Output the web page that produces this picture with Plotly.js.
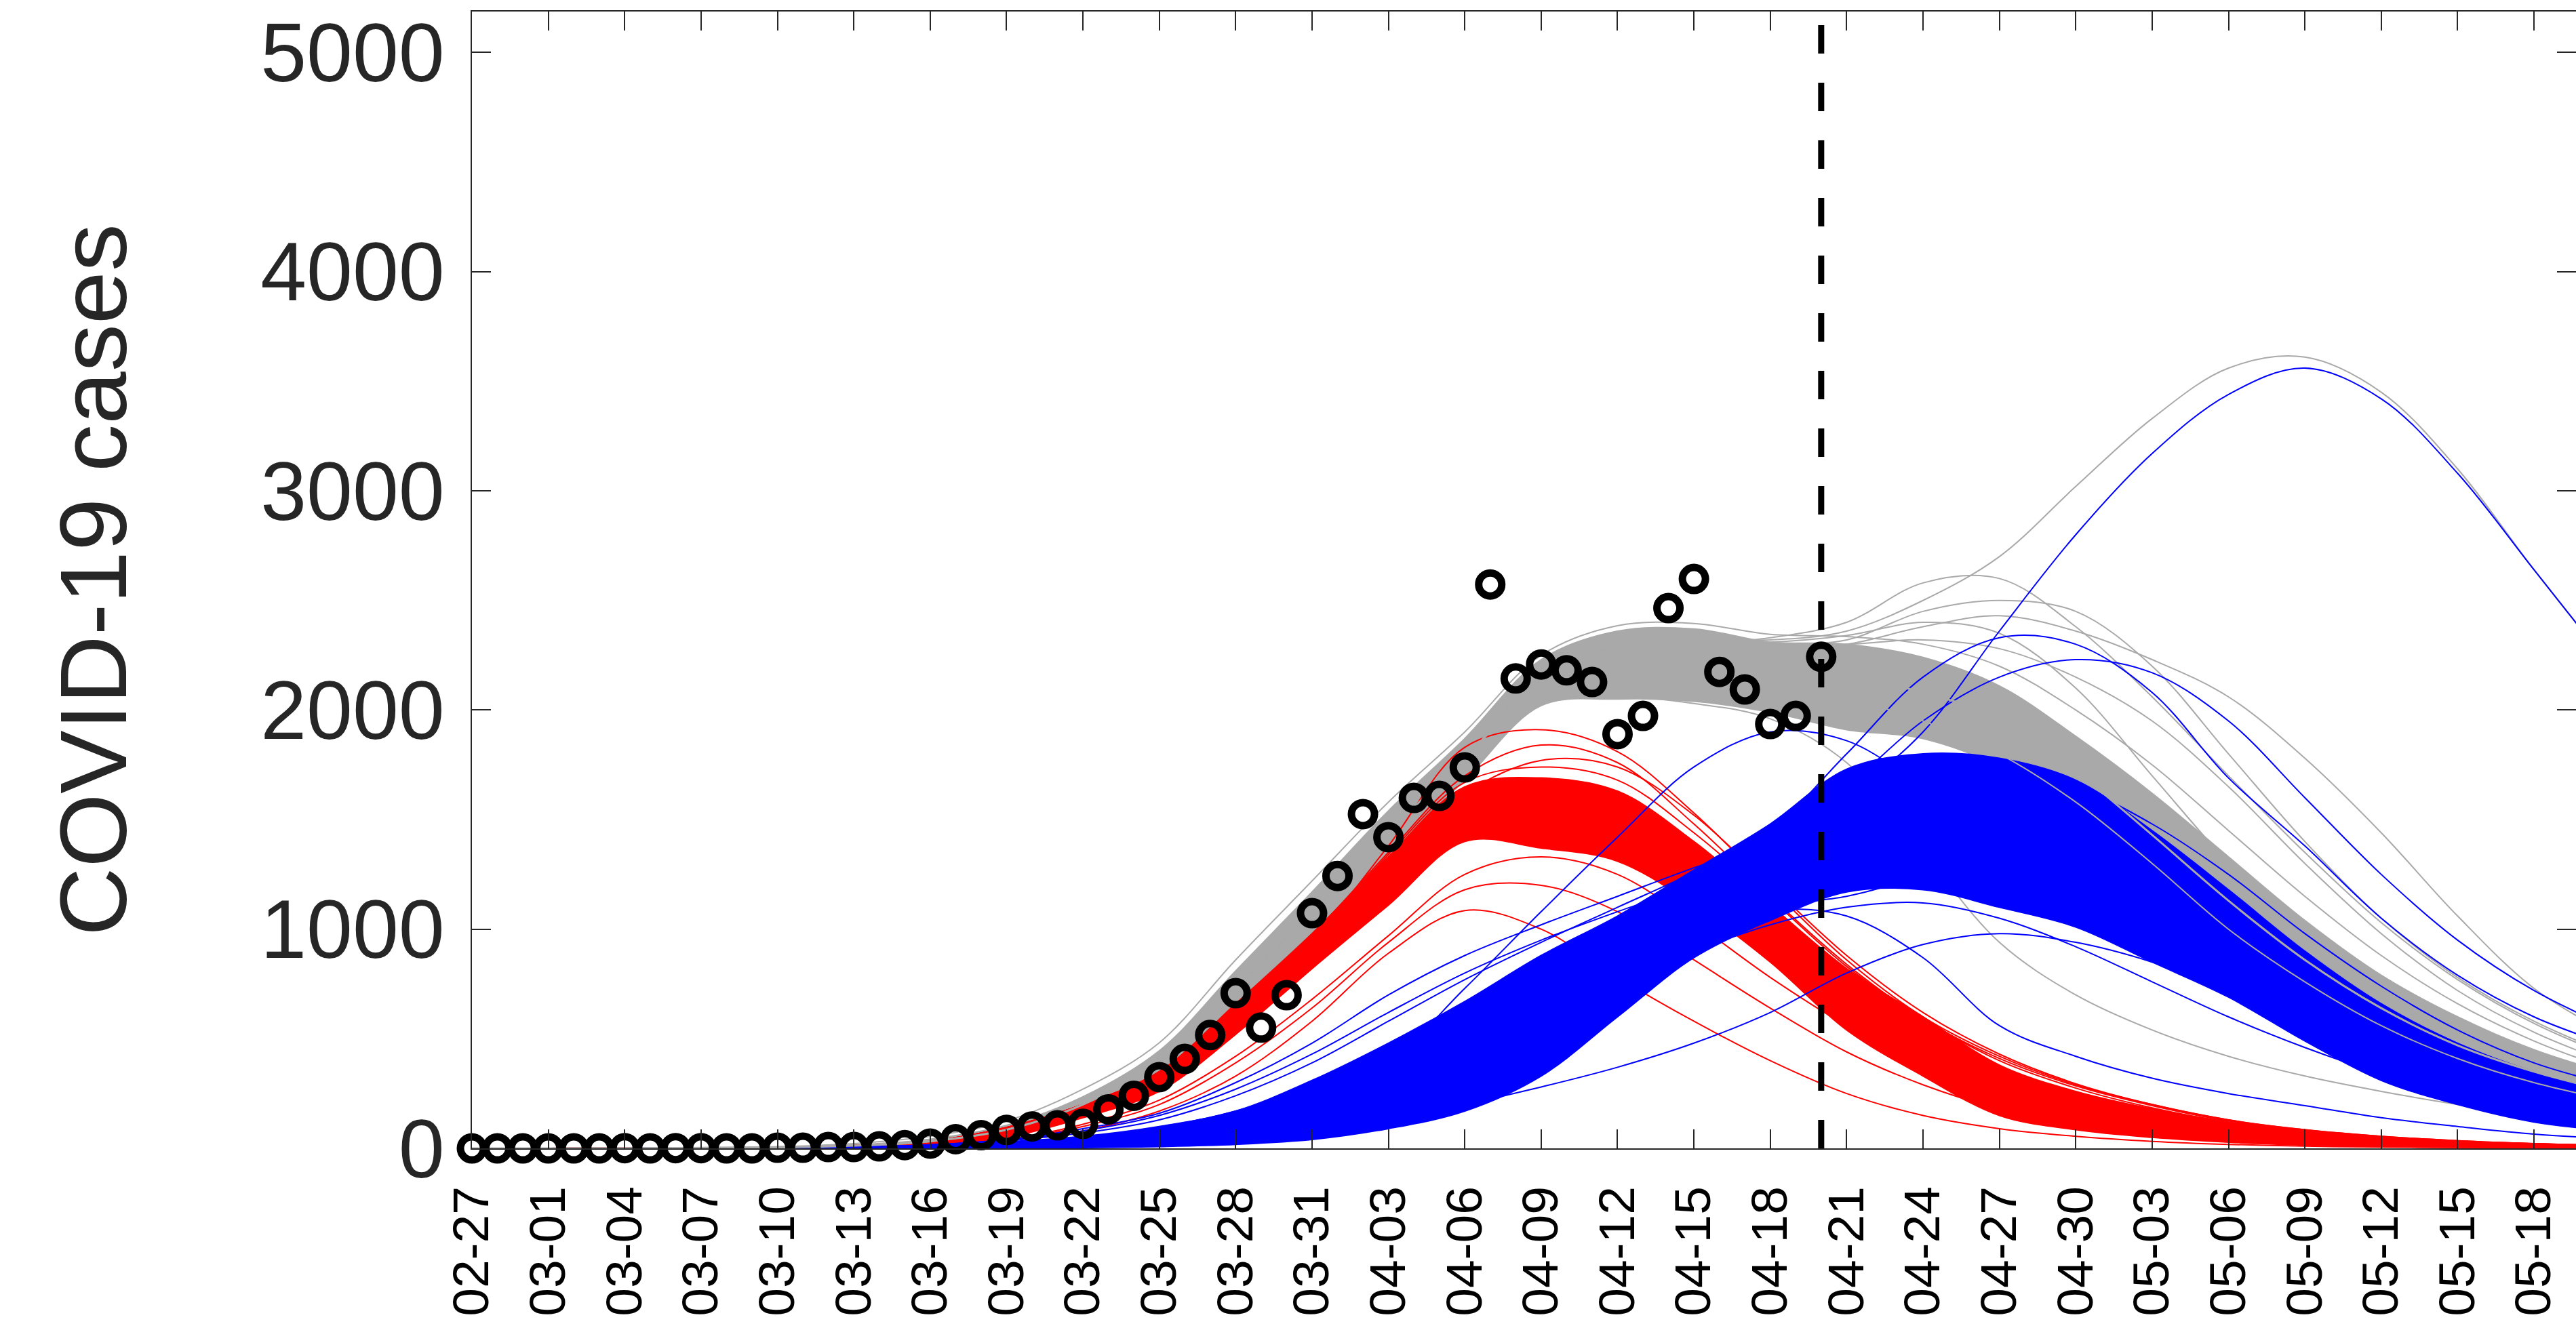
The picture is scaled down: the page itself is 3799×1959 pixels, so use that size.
<!DOCTYPE html>
<html>
<head>
<meta charset="utf-8">
<script src="https://cdn.plot.ly/plotly-3.0.1.min.js"></script>
<style>
  html, body { margin: 0; padding: 0; background: #ffffff; overflow: hidden; }
  #chart { width: 3799px; height: 1959px; }
</style>
</head>
<body>
<div id="chart"></div>
<script>
// ---------------- DATA ----------------
// Day index 0 = 02-27 (2020). Observed daily cases, days 0..53
const obsCases = [0,0,0,0,0,0,1,0,1,1,0,0,3,3,6,6,9,15,22,42,
                  60,84,100,105,112,178,240,325,408,517,708,551,699,1073,1243,1525,1420,1599,1608,1738,
                  2573,2144,2208,2181,2128,1890,1973,2465,2598,2174,2094,1936,1973,2243];

// Curve sample days (every 3 days, 02-27 .. 05-21)
const sampleDays = [0,3,6,9,12,15,18,21,24,27,30,33,36,39,42,45,48,51,54,57,60,63,66,69,72,75,78,81,84];

// Tick positions and labels
const tickDays   = [0,3,6,9,12,15,18,21,24,27,30,33,36,39,42,45,48,51,54,57,60,63,66,69,72,75,78,81];
const tickLabels = ["02-27","03-01","03-04","03-07","03-10","03-13","03-16","03-19","03-22","03-25",
                    "03-28","03-31","04-03","04-06","04-09","04-12","04-15","04-18","04-21","04-24",
                    "04-27","04-30","05-03","05-06","05-09","05-12","05-15","05-18"];
const yTickVals = [0,1000,2000,3000,4000,5000];

const forecastStartDay = 53;   // 04-20, dashed line
const yAxisMax = 5187;
const xAxisMax = 82.65;

// Gray ensemble: dense band and individual runs
const grayLo   = [0,0,0,1,2,8,22,62,160,345,655,975,1340,1680,2020,2050,2040,1990,1910,1870,1740,1500,1220,930,680,480,340,240,170];
const grayHi   = [0,0,1,2,6,16,42,105,235,445,810,1170,1540,1870,2230,2360,2370,2310,2300,2240,2110,1880,1620,1330,1040,790,600,450,340];
const grayTop  = [0,0,1,3,8,22,55,125,270,482,860,1220,1580,1900,2250,2385,2395,2345,2335,2300,2200,2000,1750,1450,1150,880,660,490,360];
const grayBig  = [0,0,1,2,4,12,32,85,200,395,735,1070,1440,1780,2150,2300,2330,2320,2360,2500,2700,3020,3330,3560,3610,3450,3100,2640,2200];
const grayHi1  = [0,0,1,2,4,12,32,85,200,395,735,1070,1440,1780,2150,2290,2300,2330,2400,2580,2600,2380,2060,1700,1350,1030,770,570,420];
const grayHi2  = [0,0,1,2,4,12,32,85,200,395,735,1070,1440,1780,2140,2270,2280,2280,2300,2380,2430,2360,2230,2060,1780,1440,1060,730,520];
const grayHi3  = [0,0,1,2,4,12,32,85,200,395,735,1070,1440,1780,2150,2280,2300,2300,2320,2450,2500,2450,2200,1800,1400,1050,780,580,430];
const grayHi4  = [0,0,1,2,4,12,32,85,200,395,735,1070,1440,1780,2150,2280,2300,2300,2300,2320,2280,2150,1950,1650,1300,980,720,530,390];
const grayHi5  = [0,0,1,2,4,12,32,85,200,395,735,1070,1440,1780,2150,2290,2310,2310,2340,2400,2350,2100,1700,1300,950,700,510,380,280];
const grayLow  = [0,0,0,1,2,8,22,65,165,350,665,985,1350,1690,2030,2060,2030,1960,1760,1350,940,700,540,420,330,260,200,150,120];
const grayMid  = [0,0,1,2,4,12,32,85,200,395,735,1070,1440,1780,2120,2200,2200,2150,2150,2080,1960,1720,1430,1130,860,640,470,350,260];
const grayMid2 = [0,0,1,2,4,12,32,85,200,395,735,1070,1440,1780,2100,2150,2130,2080,2050,1950,1800,1580,1300,1000,760,560,410,300,220];

// Red ensemble
const redLo    = [0,0,0,0,1,4,14,50,140,260,520,820,1110,1400,1370,1310,1110,850,540,330,150,85,50,28,15,8,5,3,2];
const redHi    = [0,0,1,1,3,12,32,95,200,345,650,970,1330,1650,1690,1630,1400,1110,820,600,380,260,180,120,80,50,32,20,12];
const redHigh  = [0,0,1,1,3,12,32,95,200,350,640,950,1380,1830,1910,1810,1530,1190,860,600,420,290,200,130,85,55,35,22,14];
const redUp1   = [0,0,1,1,3,12,32,95,200,350,660,980,1330,1620,1770,1740,1520,1200,880,620,430,295,200,130,85,55,35,22,14];
const redUp2   = [0,0,1,1,3,12,32,95,200,350,655,975,1350,1700,1840,1760,1480,1150,840,590,410,285,195,125,82,52,33,21,13];
const redUp3   = [0,0,1,1,3,12,32,95,200,345,650,965,1340,1670,1740,1680,1440,1140,830,590,400,275,185,120,80,50,32,20,12];
const redDown1 = [0,0,0,0,1,4,12,40,110,220,420,680,970,1250,1330,1250,1030,780,560,380,250,160,100,60,35,20,12,7,4];
const redDown2 = [0,0,0,0,1,4,12,38,100,200,390,640,940,1180,1200,1080,860,640,440,290,180,110,70,42,25,15,9,5,3];
const redLow   = [0,0,0,0,1,3,10,35,80,170,330,580,890,1085,1000,780,580,400,250,150,90,55,32,18,10,6,4,2,1];

// Blue ensemble
const blueLo   = [0,0,0,0,0,0,0,1,3,8,18,40,90,170,330,600,870,1040,1170,1180,1100,1010,850,690,490,310,200,120,80];
const blueHi   = [0,0,0,1,2,6,15,30,55,100,170,310,480,670,880,1060,1270,1480,1730,1800,1780,1680,1450,1180,900,660,480,350,260];
const blueBig  = [0,0,0,1,2,5,12,25,45,80,140,240,380,550,750,950,1150,1350,1600,1900,2360,2800,3170,3440,3560,3420,3080,2640,2200];
const blueEarly= [0,0,0,1,2,5,12,25,50,95,170,280,400,730,1080,1420,1740,1900,1860,1650,1420,1200,980,780,600,460,340,250,180];
const blueHi1  = [0,0,0,1,2,6,15,35,70,130,240,390,580,770,940,1100,1260,1450,1800,2150,2330,2300,2080,1690,1380,1050,790,600,470];
const blueHi2  = [0,0,0,1,2,6,16,40,90,160,300,480,700,880,1020,1150,1280,1400,1650,1950,2150,2230,2170,1950,1600,1250,950,720,550];
const blueUp3  = [0,0,0,1,2,6,16,38,80,150,270,430,620,800,950,1080,1200,1350,1550,1700,1720,1650,1480,1250,980,740,540,390,290];
const blueLow  = [0,0,0,0,1,3,8,18,35,60,100,170,300,500,720,900,1030,1090,1060,870,560,420,320,250,195,140,100,65,45];
const blueLow2 = [0,0,0,1,2,5,12,25,45,80,140,230,350,500,650,800,1000,1100,1150,1230,1230,1150,1000,820,640,480,350,240,170];
const blueLow3 = [0,0,0,0,1,3,8,18,35,60,110,190,300,440,600,760,900,1020,1100,1120,1050,920,760,600,460,340,240,170,120];
const blueLow4 = [0,0,0,0,0,1,3,8,15,25,45,80,130,200,280,370,480,620,800,930,980,940,850,720,570,430,320,230,160];

// ---------------- STYLE ----------------
const GRAY = '#a9a9a9', RED = '#ff0000', BLUE = '#0000ff', AXIS = '#262626';
const FONT = 'Liberation Sans, Arial, Helvetica, sans-serif';

function lineTrace(y, color, width) {
  return { x: sampleDays, y: y, type: 'scatter', mode: 'lines',
           line: { color: color, width: width, shape: 'spline', smoothing: 1 },
           hoverinfo: 'skip', showlegend: false };
}
function band(lo, hi, color) {
  const a = lineTrace(lo, color, 2);
  const b = lineTrace(hi, color, 2);
  b.fill = 'tonexty'; b.fillcolor = color;
  return [a, b];
}

const traces = [
  ...band(grayLo, grayHi, GRAY),
  lineTrace(grayTop, GRAY, 2), lineTrace(grayBig, GRAY, 2), lineTrace(grayHi1, GRAY, 2),
  lineTrace(grayHi2, GRAY, 2), lineTrace(grayHi3, GRAY, 2), lineTrace(grayHi4, GRAY, 2),
  lineTrace(grayHi5, GRAY, 2), lineTrace(grayLow, GRAY, 2),
  ...band(redLo, redHi, RED),
  lineTrace(redHigh, RED, 2), lineTrace(redUp1, RED, 2), lineTrace(redUp2, RED, 2), lineTrace(redUp3, RED, 2),
  lineTrace(redDown1, RED, 2), lineTrace(redDown2, RED, 2), lineTrace(redLow, RED, 2),
  ...band(blueLo, blueHi, BLUE),
  lineTrace(blueBig, BLUE, 2), lineTrace(blueEarly, BLUE, 2), lineTrace(blueHi1, BLUE, 2),
  lineTrace(blueHi2, BLUE, 2), lineTrace(blueUp3, BLUE, 2), lineTrace(blueLow, BLUE, 2),
  lineTrace(blueLow2, BLUE, 2), lineTrace(blueLow3, BLUE, 2), lineTrace(blueLow4, BLUE, 2),
  lineTrace(grayMid, GRAY, 3), lineTrace(grayMid2, GRAY, 2),
  { x: [forecastStartDay, forecastStartDay], y: [0, yAxisMax], type: 'scatter', mode: 'lines',
    line: { color: '#000000', width: 9, dash: '42px,43px' }, hoverinfo: 'skip', showlegend: false },
  { x: obsCases.map((v, i) => i), y: obsCases, type: 'scatter', mode: 'markers', cliponaxis: false,
    marker: { symbol: 'circle-open', size: 34, color: '#000000', line: { width: 11, color: '#000000' } },
    hoverinfo: 'skip', showlegend: false }
];

const layout = {
  width: 3799, height: 1959,
  margin: { l: 696, r: 0, t: 17, b: 265, pad: 0 },
  paper_bgcolor: '#ffffff', plot_bgcolor: '#ffffff',
  font: { family: FONT, color: AXIS },
  showlegend: false,
  xaxis: {
    range: [0, xAxisMax], showgrid: false, zeroline: false,
    showline: true, linecolor: AXIS, linewidth: 2, mirror: 'ticks',
    ticks: 'inside', ticklen: 28, tickwidth: 2, tickcolor: AXIS,
    tickmode: 'array', tickvals: tickDays, ticktext: tickLabels,
    tickangle: -90, tickfont: { family: FONT, size: 75, color: '#000000' },
    ticklabelstandoff: 24
  },
  yaxis: {
    range: [0, yAxisMax], showgrid: false, zeroline: false,
    showline: true, linecolor: AXIS, linewidth: 2, mirror: 'ticks',
    ticks: 'inside', ticklen: 28, tickwidth: 2, tickcolor: AXIS,
    tickmode: 'array', tickvals: yTickVals,
    tickfont: { family: FONT, size: 122, color: AXIS },
    ticklabelstandoff: 14,
    title: { text: 'COVID-19 cases', font: { family: FONT, size: 140, color: AXIS }, standoff: 150 }
  }
};

Plotly.newPlot('chart', traces, layout, { staticPlot: true, displayModeBar: false });
</script>
</body>
</html>
